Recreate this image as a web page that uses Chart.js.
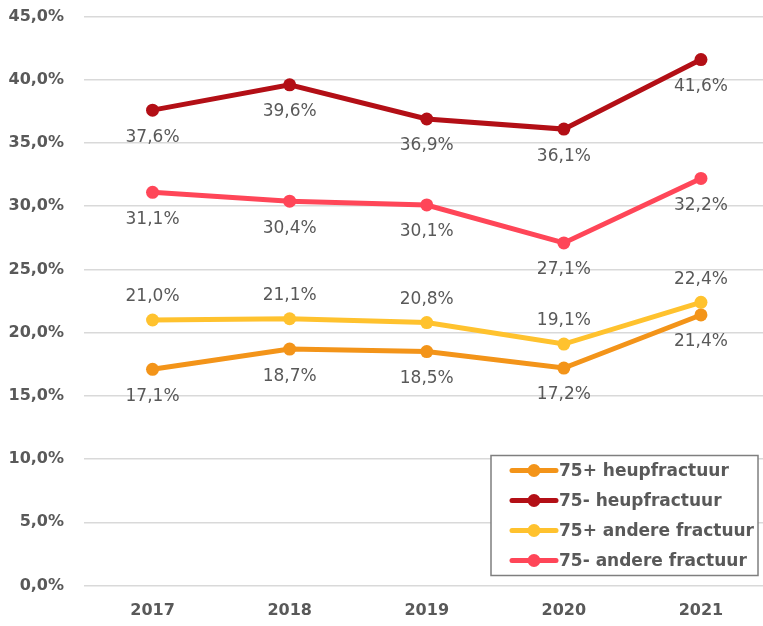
<!DOCTYPE html>
<html>
<head>
<meta charset="utf-8">
<title>Fracturen 2017-2021</title>
<script src="https://cdn.jsdelivr.net/npm/chart.js@4/dist/chart.umd.min.js"></script>
<style>
    html, body { margin: 0; padding: 0; background: #fff; }
    #wrap { width: 763px; height: 626px; overflow: hidden; position: relative; }
    /* canvas is a bit larger than the window: the original is cropped at the top/right */
    #fractChart { display: block; margin-top: -13px; }
</style>
</head>
<body>
<div id="wrap">
    <canvas id="fractChart" width="776" height="639"></canvas>
</div>
<script>
// --- Data ---
const years = ['2017', '2018', '2019', '2020', '2021'];
const heup75plus   = [17.1, 18.7, 18.5, 17.2, 21.4];
const heup75min    = [37.6, 39.6, 36.9, 36.1, 41.6];
const andere75plus = [21.0, 21.1, 20.8, 19.1, 22.4];
const andere75min  = [31.1, 30.4, 30.1, 27.1, 32.2];
const seriesNames  = ['75+ heupfractuur', '75- heupfractuur', '75+ andere fractuur', '75- andere fractuur'];
const yTicks       = [0, 5, 10, 15, 20, 25, 30, 35, 40, 45];

const textGrey = '#595959';
const fontFam = '"DejaVu Sans", sans-serif';

// comma as decimal separator, like the original
function pct(v) {
    return v.toFixed(1).replace('.', ',') + '%';
}

/**
 * Value labels next to each point
 * (above for "75+ andere fractuur", below for the rest)
 */
const valueLabels = {
    id: 'valueLabels',
    afterDatasetsDraw(chart) {
        const ctx = chart.ctx;
        ctx.save();
        ctx.font = '17px ' + fontFam;
        ctx.fillStyle = textGrey;
        ctx.textAlign = 'center';
        ctx.textBaseline = 'middle';
        chart.data.datasets.forEach(function(ds, i) {
            const meta = chart.getDatasetMeta(i);
            const dy = ds.labelAbove ? -23 : 27;
            meta.data.forEach(function(pt, j) {
                ctx.fillText(pct(ds.data[j]), pt.x, pt.y + dy);
            });
        });
        ctx.restore();
    }
};

/**
 * Boxed legend in the lower right corner
 * (y is in canvas coords, canvas is shifted up by 13px)
 */
const boxLegend = {
    id: 'boxLegend',
    afterDraw(chart) {
        const ctx = chart.ctx;
        const bx = 491, by = 455.5 + 13, bw = 267, bh = 120, rowH = 30;
        ctx.save();
        ctx.fillStyle = '#fff';
        ctx.fillRect(bx, by, bw, bh);
        ctx.strokeStyle = '#7f7f7f';
        ctx.lineWidth = 1.5;
        ctx.strokeRect(bx, by, bw, bh);

        ctx.font = 'bold 17px ' + fontFam;
        ctx.textBaseline = 'middle';
        ctx.textAlign = 'left';
        chart.data.datasets.forEach(function(ds, i) {
            const cy = by + 15 + i * rowH;
            ctx.strokeStyle = ds.borderColor;
            ctx.lineWidth = 5;
            ctx.lineCap = 'round';
            ctx.beginPath();
            ctx.moveTo(512, cy);
            ctx.lineTo(556, cy);
            ctx.stroke();
            ctx.fillStyle = ds.borderColor;
            ctx.beginPath();
            ctx.arc(534, cy, 6.5, 0, Math.PI * 2);
            ctx.fill();
            ctx.fillStyle = textGrey;
            ctx.fillText(ds.label, 559, cy + 1);
        });
        ctx.restore();
    }
};

function lineSet(label, data, color, above) {
    return {
        label: label,
        data: data,
        borderColor: color,
        backgroundColor: color,
        borderWidth: 5,
        pointRadius: 6.5,
        pointHoverRadius: 6.5,
        pointBorderWidth: 0,
        tension: 0,
        labelAbove: above
    };
}

const canvas = document.getElementById('fractChart');
new Chart(canvas.getContext('2d'), {
    type: 'line',
    data: {
        labels: years,
        datasets: [
            lineSet(seriesNames[0], heup75plus,   '#F39419', false),
            lineSet(seriesNames[1], heup75min,    '#B30F16', false),
            lineSet(seriesNames[2], andere75plus, '#FFC22E', true),
            lineSet(seriesNames[3], andere75min,  '#FF4658', false)
        ]
    },
    options: {
        responsive: false,
        animation: false,
        events: [],
        layout: { padding: { top: 4, right: 1.5, left: 0, bottom: 0 } },
        plugins: {
            legend: { display: false },
            tooltip: { enabled: false }
        },
        scales: {
            x: {
                offset: true,
                grid: { display: false },
                border: { display: false },
                ticks: {
                    color: textGrey,
                    padding: 8,
                    font: { family: fontFam, size: 16, weight: 'bold' }
                },
                afterFit: function(scale) { scale.height = 40.5; }
            },
            y: {
                min: 0,
                max: 45,
                afterBuildTicks: function(scale) {
                    scale.ticks = yTicks.map(function(v) { return { value: v }; });
                },
                grid: { color: '#d9d9d9', lineWidth: 1.5, drawTicks: false },
                border: { display: false },
                ticks: {
                    color: textGrey,
                    padding: 20,
                    font: { family: fontFam, size: 16, weight: 'bold' },
                    callback: function(v) { return pct(v); }
                },
                afterFit: function(scale) { scale.width = 84; }
            }
        }
    },
    plugins: [valueLabels, boxLegend]
});
</script>
</body>
</html>
